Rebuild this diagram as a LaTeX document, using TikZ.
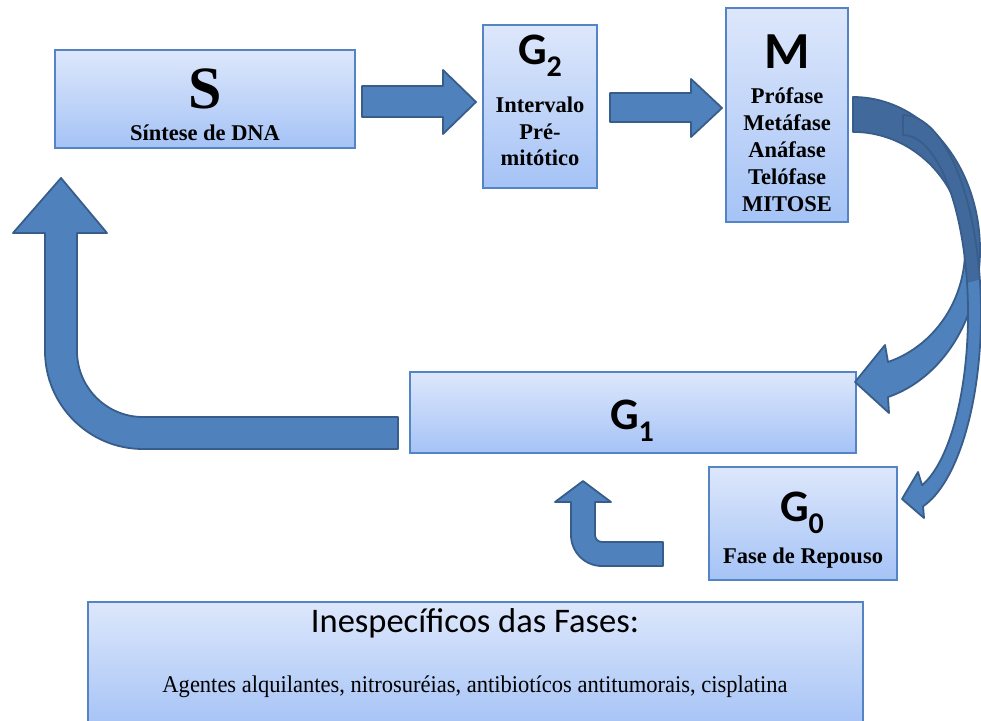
\documentclass[tikz,border=0pt]{standalone}
\usepackage{graphicx}
\usepackage{fontspec}
\setmainfont{Liberation Serif}
\newfontfamily\calfont{Carlito}
\usetikzlibrary{calc}
\definecolor{arrfill}{HTML}{4F81BD}
\definecolor{arrdark}{HTML}{41699B}
\definecolor{arredge}{HTML}{385D8A}
\definecolor{boxtop}{HTML}{DDE7FB}
\definecolor{boxbot}{HTML}{A5C3F6}
\definecolor{boxedge}{HTML}{5584C4}
\newcommand\Gsub[1]{\raisebox{-12pt}{\fontsize{30}{30}\selectfont #1}}
\tikzset{
 phasebox/.style={draw=boxedge, line width=1.3pt, top color=boxtop, bottom color=boxbot, rectangle, inner sep=0pt},
 arrowfillst/.style={fill=arrfill},
 arrowedgest/.style={draw=arredge, line width=1.8pt, line join=round},
 blockarrow/.style={fill=arrfill, draw=arredge, line width=1.8pt, line join=round},
 bigG/.style={font=\calfont\bfseries\fontsize{45}{45}\selectfont, inner sep=0pt, anchor=base},
 bigM/.style={font=\calfont\bfseries\fontsize{52}{52}\selectfont, inner sep=0pt, anchor=base},
 bigS/.style={font=\bfseries\fontsize{60}{60}\selectfont, inner sep=0pt, anchor=base},
 serifb/.style={font=\bfseries\fontsize{22.5}{26}\selectfont, inner sep=0pt, anchor=base},
 headtxt/.style={font=\calfont\fontsize{34.5}{34.5}\selectfont, inner sep=0pt, anchor=base},
 bodytxt/.style={inner sep=0pt, anchor=base},
 Epath/.style={insert path={(853,97) arc[start angle=-90,end angle=74,x radius=127,y radius=153] -- (889,413) -- (855,382) -- (885,345) -- (888,362) arc[start angle=71.8,end angle=-90,x radius=112,y radius=118] -- cycle}},
 Edark/.style={insert path={(853,97) arc[start angle=-90,end angle=8,x radius=127,y radius=153] -- (963.9,266.4) arc[start angle=8,end angle=-90,x radius=112,y radius=118] -- cycle}},
 Fpath/.style={insert path={(903,115) arc[start angle=-90,end angle=75.1,x radius=78,y radius=199] -- (924,518) -- (902,499) -- (918,472) -- (922,485.2) arc[start angle=73,end angle=-90,x radius=65,y radius=179] -- cycle}},
 Fdark/.style={insert path={(903,115) arc[start angle=-90,end angle=-10,x radius=78,y radius=199] -- (967.0,282.9) arc[start angle=-10,end angle=-90,x radius=65,y radius=179] -- cycle}},
}
\begin{document}
\begin{tikzpicture}[x=1pt,y=-1pt]
\useasboundingbox (0,0) rectangle (981,720);
% boxes
\node[phasebox, minimum width=300pt, minimum height=98pt] (S) at (205,99) {};
\node[phasebox, minimum width=114pt, minimum height=163pt] (G2) at (540,106.5) {};
\node[phasebox, minimum width=122pt, minimum height=214pt] (M) at (787,115) {};
\node[phasebox, minimum width=446pt, minimum height=81pt] (G1) at (633,412.5) {};
\node[phasebox, minimum width=188pt, minimum height=113pt] (G0) at (803,523.5) {};
\node[phasebox, minimum width=775pt, minimum height=125pt] (info) at (475.5,664.5) {};
% texts
\node[bigS] (Stxt) at (205,108) {S};
\node[serifb] (Ssub) at (205,140) {Síntese de DNA};
\node[bigG] (G2txt) at (540,64) {G\Gsub{2}};
\node[serifb] (G2l1) at (540,112) {Intervalo};
\node[serifb] (G2l2) at (540,139) {Pré-};
\node[serifb] (G2l3) at (540,165) {mitótico};
\node[bigM] (Mtxt) at (787,68) {M};
\node[serifb] (Ml1) at (787,103) {Prófase};
\node[serifb] (Ml2) at (787,130) {Metáfase};
\node[serifb] (Ml3) at (787,157) {Anáfase};
\node[serifb] (Ml4) at (787,184) {Telófase};
\node[serifb] (Ml5) at (787,211) {MITOSE};
\node[bigG] (G1txt) at (632,429) {G\Gsub{1}};
\node[bigG] (G0txt) at (802,521) {G\Gsub{0}};
\node[serifb] (G0sub) at (803,563) {Fase de Repouso};
\node[headtxt] (infohead) at (475,632) {Inespecíficos das Fases:};
\node[bodytxt] (infobody) at (475,692) {\resizebox{625pt}{\height}{\fontsize{24}{24}\selectfont Agentes alquilantes, nitrosuréias, antibiotícos antitumorais, cisplatina}};
% straight arrows S -> G2 -> M
\path[blockarrow] (362,86) -- (443,86) -- (443,70) -- (476,102) -- (443,134) -- (443,117) -- (362,117) -- cycle;
\path[blockarrow] (610,93) -- (691,93) -- (691,79) -- (722,108) -- (691,137) -- (691,122) -- (610,122) -- cycle;
% big return arrow G1 -> S
\path[blockarrow] (398,417) -- (143,417) arc[start angle=90,end angle=180,radius=66] -- (77,233) -- (107,233) -- (61,178) -- (13,233) -- (45,233) -- (45,351) arc[start angle=180,end angle=90,radius=98] -- (398,449) -- cycle;
% small arrow G0 -> G1
\path[blockarrow] (663,542) -- (602,542) arc[start angle=90,end angle=180,radius=7] -- (595,502) -- (611,502) -- (583,481) -- (555,502) -- (571,502) -- (571,535) arc[start angle=180,end angle=90,radius=31] -- (663,566) -- cycle;
% curved arrow M -> G1
\path[arrowfillst, Epath];
\path[fill=arrdark, Edark];
\path[arrowedgest, Epath];
% curved arrow M -> G0
\path[arrowfillst, Fpath];
\path[fill=arrdark, Fdark];
\path[arrowedgest, Fpath];
\end{tikzpicture}
\end{document}
